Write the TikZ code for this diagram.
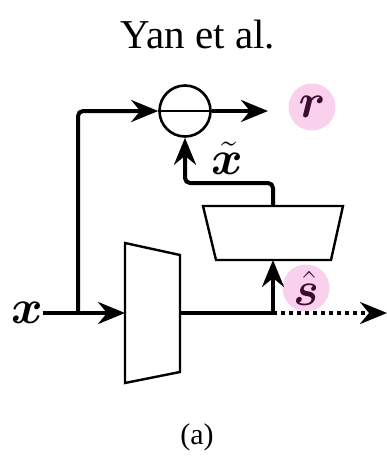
\RequirePackage{fix-cm}
\documentclass[tikz,border=0pt]{standalone}
\usepackage{amsmath}
\usepackage{bm}
\usepackage{fontspec}
\setmainfont{Liberation Serif}
\usetikzlibrary{arrows.meta,calc}
\definecolor{tagpink}{rgb}{0.98,0.82,0.93}
\definecolor{tagink}{rgb}{0.24,0.04,0.19}

\begin{document}
\begin{tikzpicture}[x=1pt, y=-1pt,
    wire/.style={line width=4pt},
    arr/.style={wire, -{Stealth[length=27pt, width=22pt, inset=9pt]}},
    block/.style={line width=2.4pt, fill=white, line join=miter},
    tag/.style={circle, fill=tagpink, minimum size=47pt, inner sep=0pt,
                text=tagink, font=\fontsize{48}{52}\selectfont},
    sym/.style={inner sep=0pt, font=\fontsize{48}{52}\selectfont}
]
    \useasboundingbox (0,0) rectangle (387,456);

    \node (title) at (198,35) {\fontsize{41}{45}\selectfont Yan et al.};
    \node (cap) at (197,437) {\fontsize{30}{34}\selectfont (a)};

    % encoder and decoder
    \draw[block] (125,243) -- (180,255) -- (180,372) -- (125,383) -- cycle;
    \draw[block] (203,206) -- (343,206) -- (331,260) -- (216,260) -- cycle;
    \coordinate (encin) at (125,313);
    \coordinate (encout) at (180,313);
    \coordinate (dectop) at (273,206);
    \coordinate (decbot) at (273,260);

    \node[circle, draw, line width=2.6pt, minimum size=51pt, inner sep=0pt] (sub) at (185,111) {};
    \draw[line width=2.6pt] (sub.west) -- (sub.east);

    \node[sym] (x) at (27,313) {$\bm{x}$};
    \coordinate (split) at (78,313);
    \coordinate (fork) at (273,313);
    \coordinate (rend) at (268,111);
    \coordinate (send) at (387,313);

    \node[tag] (r) at (312,107) {$\bm{r}$};
    \node[tag] (s) at (306,288) {$\hat{\bm{s}}$};
    \node[sym] (xt) at (227,158) {$\tilde{\bm{x}}$};

    \draw[arr] (x.east) -- (encin);
    \draw[arr, rounded corners=5pt] (split) |- (sub.west);
    \draw[arr] (sub.east) -- (rend);
    \draw[arr, rounded corners=5pt] (dectop) -- ++(0,-23) -| (sub.south);
    \draw[wire] (encout) -- (fork);
    \draw[arr] (fork) -- (decbot);
    \draw[wire, dash pattern=on 4pt off 4pt, -{Stealth[length=27pt, width=22pt, inset=9pt]}] (fork) -- (send);
\end{tikzpicture}
\end{document}
